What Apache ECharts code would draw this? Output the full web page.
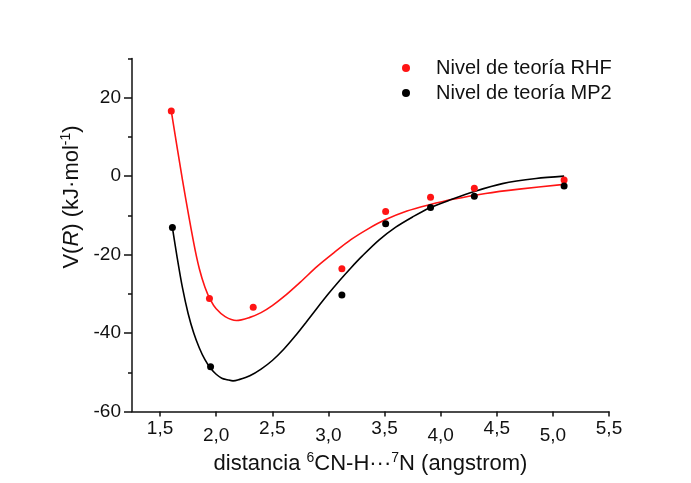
<!DOCTYPE html>
<html>
<head>
<meta charset="utf-8">
<script src="https://cdn.jsdelivr.net/npm/echarts@6/dist/echarts.min.js"></script>
<style>html,body{margin:0;padding:0;background:#fff}#c{width:691px;height:483px}</style>
</head>
<body>
<div id="c"></div>
<script>
// ---- data ----
const rhfName = 'Nivel de teoría RHF';
const mp2Name = 'Nivel de teoría MP2';
const rhfX = [1.60, 1.94, 2.33, 3.12, 3.51, 3.91, 4.30, 5.10];
const rhfY = [16.6, -31.2, -33.4, -23.6, -9.0, -5.4, -3.1, -1.0];
const mp2X = [1.61, 1.95, 3.12, 3.51, 3.91, 4.30, 5.10];
const mp2Y = [-13.1, -48.6, -30.3, -12.1, -8.0, -5.1, -2.5];
// fitted curves
const rhfFitX = [1.60, 1.70, 1.80, 1.85, 1.90, 1.95, 2.00, 2.08, 2.18, 2.30, 2.40, 2.50, 2.60, 2.75, 2.90, 3.05, 3.20, 3.35, 3.50, 3.70, 3.90, 4.11, 4.40, 4.70, 5.10];
const rhfFitY = [16.6, -1.0, -17.0, -23.6, -28.3, -31.6, -33.8, -35.8, -36.8, -36.0, -34.8, -33.0, -30.8, -27.0, -23.0, -19.5, -16.2, -13.5, -11.2, -8.9, -7.3, -5.9, -4.4, -3.3, -2.1];
const mp2FitX = [1.61, 1.65, 1.70, 1.75, 1.80, 1.85, 1.90, 1.95, 2.00, 2.05, 2.10, 2.15, 2.20, 2.30, 2.40, 2.50, 2.60, 2.70, 2.80, 2.90, 3.00, 3.10, 3.20, 3.30, 3.45, 3.60, 3.75, 3.90, 4.10, 4.30, 4.55, 4.85, 5.10];
const mp2FitY = [-13.1, -20.3, -28.5, -35.0, -40.0, -43.8, -46.8, -49.0, -50.5, -51.5, -51.9, -52.2, -51.9, -50.9, -49.2, -47.0, -44.2, -40.9, -37.3, -33.6, -30.0, -26.6, -23.4, -20.4, -16.3, -13.0, -10.4, -8.1, -5.9, -3.9, -1.9, -0.6, 0.0];
const xTicks = [1.5, 2.0, 2.5, 3.0, 3.5, 4.0, 4.5, 5.0, 5.5];
const yMajor = [-60, -40, -20, 0, 20];

const zip = (xs, ys) => xs.map((x, i) => [x, ys[i]]);
const FONT = 'Arial, "Liberation Sans", sans-serif';
const RED = '#ff1414';
const INK = '#111';

const chart = echarts.init(document.getElementById('c'), null, {renderer: 'canvas'});
chart.setOption({
  backgroundColor: '#ffffff',
  animation: false,
  textStyle: {fontFamily: FONT},
  grid: {left: 132, right: 82, top: 58.5, bottom: 71.5, containLabel: false},
  legend: {
    orient: 'vertical', left: 402, top: 58, padding: 0,
    itemWidth: 8, itemHeight: 8, itemGap: 5,
    icon: 'circle',
    data: [rhfName, mp2Name],
    textStyle: {fontSize: 20, fontFamily: FONT, color: INK, padding: [0, 0, 0, 21], lineHeight: 20}
  },
  graphic: [{
    type: 'text', x: 72, y: 197, rotation: Math.PI / 2,
    style: {
      text: '{n|V(}{i|R}{n|) (kJ·mol}{s|-1}{n|)}',
      align: 'center', verticalAlign: 'middle',
      fill: INK, fontFamily: FONT, fontSize: 22,
      rich: {
        n: {fontSize: 22, fontFamily: FONT, fill: INK, lineHeight: 25},
        i: {fontSize: 22, fontFamily: FONT, fontStyle: 'italic', fill: INK, lineHeight: 25},
        s: {fontSize: 14, fontFamily: FONT, fill: INK, verticalAlign: 'top', lineHeight: 25}
      }
    }
  }],
  xAxis: {
    type: 'value', min: 1.25, max: 5.5,
    name: '{n|distancia }{s|6}{n|CN-H···}{s|7}{n|N (angstrom)}',
    nameLocation: 'middle', nameGap: 40,
    nameTextStyle: {
      fontSize: 22, color: INK, fontFamily: FONT,
      rich: {
        n: {fontSize: 22, color: INK, fontFamily: FONT, lineHeight: 25},
        s: {fontSize: 14, color: INK, fontFamily: FONT, verticalAlign: 'top', lineHeight: 25}
      }
    },
    axisLine: {show: true, onZero: false, lineStyle: {color: INK, width: 1.5}},
    axisTick: {show: true, inside: false, length: 5, customValues: xTicks, lineStyle: {color: INK, width: 1.5}},
    axisLabel: {
      customValues: xTicks, margin: 8, fontSize: 19, color: INK, fontFamily: FONT,
      formatter: function (v) {
        const k = Math.round((v - 1.5) / 0.5);
        const s = v.toFixed(1).replace('.', ',');
        return (k % 2) ? '{lo|' + s + '}' : '{hi|' + s + '}';
      },
      rich: {
        hi: {fontSize: 19, color: INK, fontFamily: FONT, padding: [0, 0, 0, 0]},
        lo: {fontSize: 19, color: INK, fontFamily: FONT, padding: [7, 0, 0, 0]}
      }
    },
    splitLine: {show: false}
  },
  yAxis: [{
    type: 'value', min: -60, max: 30, interval: 20, position: 'left',
    axisLine: {show: true, onZero: false, lineStyle: {color: INK, width: 1.5}},
    axisTick: {show: true, length: 8, customValues: yMajor, lineStyle: {color: INK, width: 1.5}},
    axisLabel: {customValues: yMajor, margin: 11, fontSize: 19, color: INK, fontFamily: FONT},
    splitLine: {show: false}
  }, {
    type: 'value', min: -60, max: 30, interval: 10, position: 'left',
    axisLine: {show: false},
    axisTick: {show: true, length: 4, lineStyle: {color: INK, width: 1.5}},
    axisLabel: {show: false},
    splitLine: {show: false}
  }],
  series: [
    {name: 'RHF ajuste', type: 'line', yAxisIndex: 0, data: zip(rhfFitX, rhfFitY), smooth: 0.3,
      symbol: 'none', lineStyle: {color: RED, width: 1.6}, z: 2},
    {name: 'MP2 ajuste', type: 'line', yAxisIndex: 0, data: zip(mp2FitX, mp2FitY), smooth: 0.3,
      symbol: 'none', lineStyle: {color: '#000', width: 1.6}, z: 2},
    {name: rhfName, type: 'scatter', yAxisIndex: 0, data: zip(rhfX, rhfY), symbol: 'circle', symbolSize: 7,
      itemStyle: {color: RED, opacity: 1}, z: 3},
    {name: mp2Name, type: 'scatter', yAxisIndex: 0, data: zip(mp2X, mp2Y), symbol: 'circle', symbolSize: 7,
      itemStyle: {color: '#000', opacity: 1}, z: 3}
  ]
});
</script>
</body>
</html>
